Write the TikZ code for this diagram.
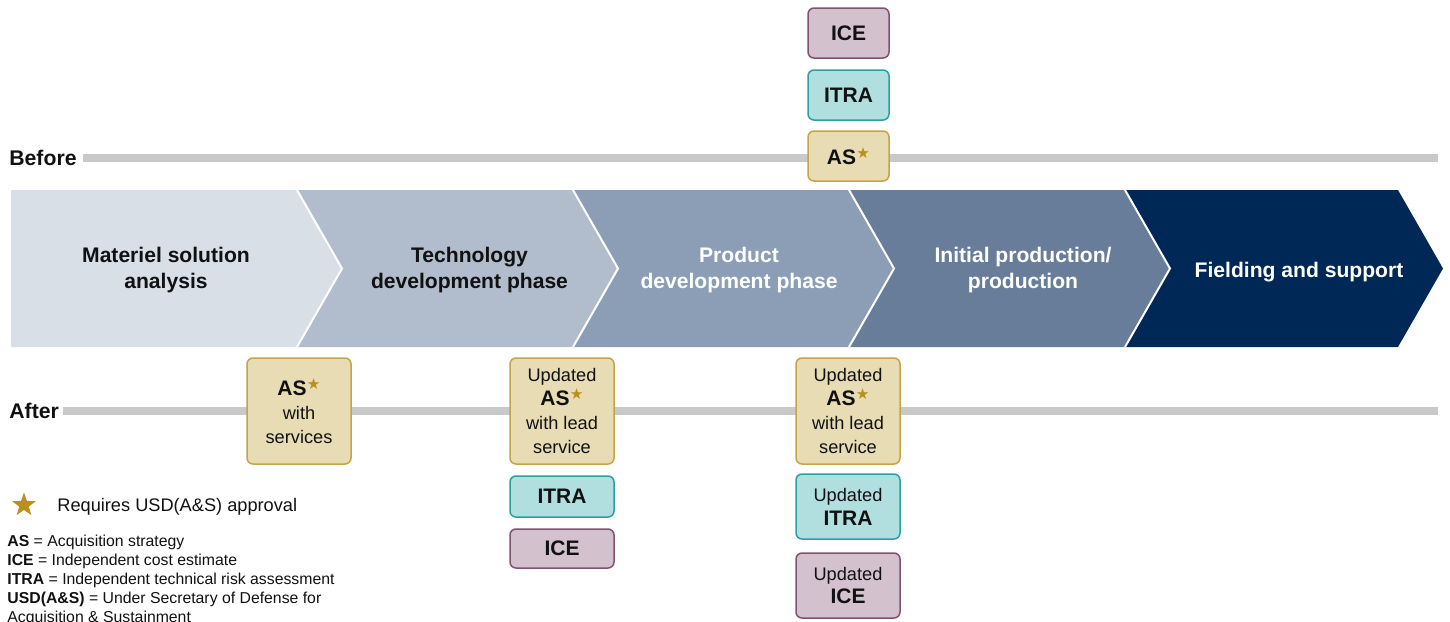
\documentclass[tikz,border=0pt]{standalone}
\usepackage{fontspec}
\setmainfont{Liberation Sans}
\newfontfamily\djv{DejaVu Sans}
\usetikzlibrary{shapes.geometric}
\definecolor{cA}{HTML}{D9DFE7}
\definecolor{cB}{HTML}{B1BDCC}
\definecolor{cC}{HTML}{8C9EB5}
\definecolor{cD}{HTML}{687D99}
\definecolor{cE}{HTML}{002856}
\definecolor{barc}{HTML}{C9C9C9}
\definecolor{asfill}{HTML}{E8DCB5}
\definecolor{asdraw}{HTML}{C4A446}
\definecolor{itfill}{HTML}{B1DFE0}
\definecolor{itdraw}{HTML}{2C9FA1}
\definecolor{icfill}{HTML}{D4C1CE}
\definecolor{icdraw}{HTML}{7F536F}
\definecolor{starc}{HTML}{B8901E}
\definecolor{ink}{HTML}{111111}
\newcommand{\mystar}{\kern0.2pt\textcolor{starc}{\raisebox{3.2pt}{\djv\fontsize{7.6}{7.6}\selectfont ★}}}
\newcommand{\smf}{\fontsize{9.1}{11.6}\selectfont}
\newcommand{\bgf}{\fontsize{10.5}{11.6}\selectfont\bfseries}
\begin{document}
\begin{tikzpicture}[x=0.5pt,y=-0.5pt,
  phase/.style={align=center,inner sep=0,font=\fontsize{10.55}{13}\selectfont\bfseries},
  lbl/.style={inner sep=0,font=\fontsize{10.6}{13}\selectfont\bfseries,text=ink},
  bar/.style={barc,line width=4pt},
  boxcommon/.style={rounded corners=3pt,line width=0.75pt,inner sep=0,align=center,text=ink},
  asbox/.style={boxcommon,fill=asfill,draw=asdraw},
  itbox/.style={boxcommon,fill=itfill,draw=itdraw},
  icbox/.style={boxcommon,fill=icfill,draw=icdraw},
  legend/.style={inner sep=0,anchor=west,text=ink,font=\fontsize{7.9}{9.5}\selectfont},
  sep/.style={white,line width=1pt}
]
\useasboundingbox (0,0) rectangle (1450,621);

% Before / After timelines
\node[lbl,anchor=west] (before) at (9,158) {Before};
\coordinate (bend) at (1438,158);
\draw[bar] ([xshift=3pt]before.east) -- (bend);
\node[lbl,anchor=west] (after) at (9,411) {After};
\coordinate (aend) at (1438,411);
\draw[bar] ([xshift=2pt]after.east) -- (aend);

% Chevrons
\fill[cA] (11,190) -- (297,190) -- (342,268.5) -- (297,347) -- (11,347) -- cycle;
\fill[cB] (297,190) -- (573,190) -- (618,268.5) -- (573,347) -- (297,347) -- (342,268.5) -- cycle;
\fill[cC] (573,190) -- (849,190) -- (894,268.5) -- (849,347) -- (573,347) -- (618,268.5) -- cycle;
\fill[cD] (849,190) -- (1125,190) -- (1170,268.5) -- (1125,347) -- (849,347) -- (894,268.5) -- cycle;
\fill[cE] (1125,190) -- (1398,190) -- (1443,268.5) -- (1398,347) -- (1125,347) -- (1170,268.5) -- cycle;
\draw[sep] (297,190) -- (342,268.5) -- (297,347);
\draw[sep] (573,190) -- (618,268.5) -- (573,347);
\draw[sep] (849,190) -- (894,268.5) -- (849,347);
\draw[sep] (1125,190) -- (1170,268.5) -- (1125,347);

\node[phase,text=ink] (p1) at (166,270) {Materiel solution\\analysis};
\node[phase,text=ink] (p2) at (469.5,270) {Technology\\development phase};
\node[phase,text=white] (p3) at (739,270) {Product\\development phase};
\node[phase,text=white] (p4) at (1023,270) {Initial production/\\production};
\node[phase,text=white] (p5) at (1299,272) {Fielding and support};

% Before boxes
\node[icbox,minimum width=40.5pt,minimum height=25pt,font=\bgf] (bice) at (848.5,33) {ICE};
\node[itbox,minimum width=40.5pt,minimum height=25pt,font=\bgf] (bitra) at (848.5,95) {ITRA};
\node[asbox,minimum width=40.5pt,minimum height=25pt,font=\bgf] (bas) at (848.5,156) {AS\mystar};

% After boxes
\node[asbox,minimum width=52pt,minimum height=53pt] (aas1) at (299,411)
  {{\bgf AS\mystar}\\{\smf with}\\{\smf services}};
\node[asbox,minimum width=52pt,minimum height=53pt] (aas2) at (562,411)
  {{\smf Updated}\\{\bgf AS\mystar}\\{\smf with lead}\\{\smf service}};
\node[itbox,minimum width=52pt,minimum height=20.5pt,font=\bgf] (aitra2) at (562,496.5) {ITRA};
\node[icbox,minimum width=52pt,minimum height=19.5pt,font=\bgf] (aice2) at (562,548.5) {ICE};
\node[asbox,minimum width=52pt,minimum height=53pt] (aas3) at (848,411)
  {{\smf Updated}\\{\bgf AS\mystar}\\{\smf with lead}\\{\smf service}};
\node[itbox,minimum width=52pt,minimum height=32.5pt] (aitra3) at (848,506.5)
  {{\smf Updated}\\{\bgf ITRA}};
\node[icbox,minimum width=52pt,minimum height=32.5pt] (aice3) at (848,585.5)
  {{\smf Updated}\\{\bgf ICE}};

% Legend
\node[star,star points=5,star point ratio=2.5,fill=starc,inner sep=0,minimum size=12.5pt] (lstar) at (24,505) {};
\node[legend,font=\fontsize{9.1}{11}\selectfont] (req) at (57,507) {Requires USD(A\&S) approval};
\node[legend] (l1) at (7,542.5) {\textbf{AS} = Acquisition strategy};
\node[legend] (l2) at (7,561.5) {\textbf{ICE} = Independent cost estimate};
\node[legend] (l3) at (7,580.5) {\textbf{ITRA} = Independent technical risk assessment};
\node[legend] (l4) at (7,599.5) {\textbf{USD(A\&S)} = Under Secretary of Defense for};
\node[legend] (l5) at (7,618.5) {Acquisition \& Sustainment};
\end{tikzpicture}
\end{document}
